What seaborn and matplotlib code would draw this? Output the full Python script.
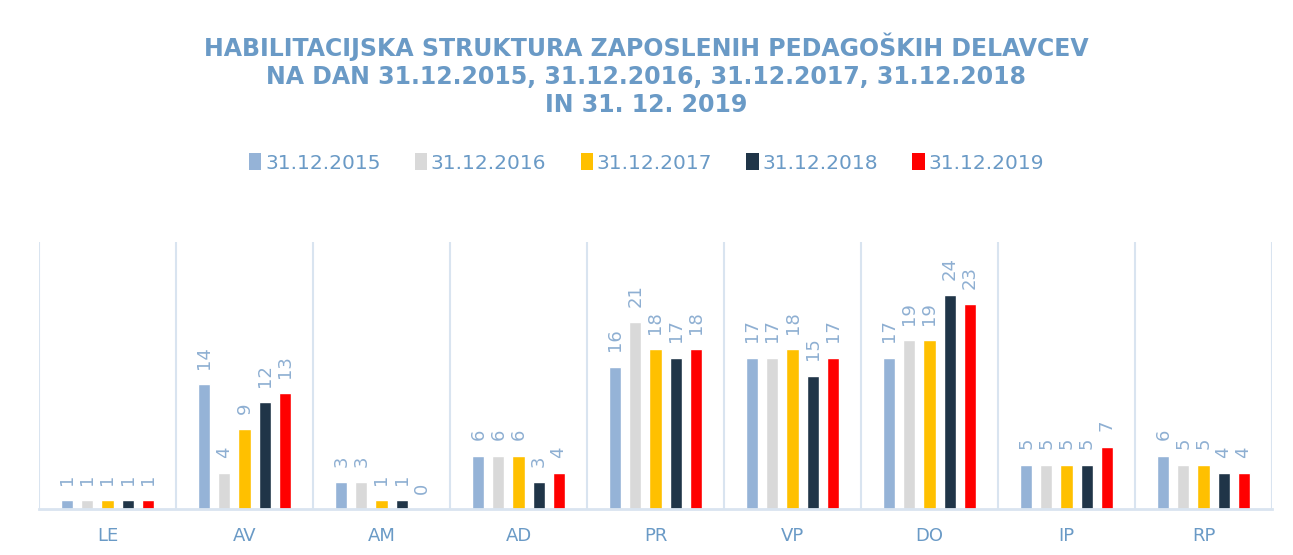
import matplotlib
matplotlib.use("Agg")
import matplotlib.pyplot as plt
import seaborn as sns
import pandas as pd
from matplotlib.patches import Patch

categories = ["LE", "AV", "AM", "AD", "PR", "VP", "DO", "IP", "RP"]
series = ["31.12.2015", "31.12.2016", "31.12.2017", "31.12.2018", "31.12.2019"]
v2015 = [1, 14, 3, 6, 16, 17, 17, 5, 6]
v2016 = [1, 4, 3, 6, 21, 17, 19, 5, 5]
v2017 = [1, 9, 1, 6, 18, 18, 19, 5, 5]
v2018 = [1, 12, 1, 3, 17, 15, 24, 5, 4]
v2019 = [1, 13, 0, 4, 18, 17, 23, 7, 4]
colors = ["#95B3D7", "#D9D9D9", "#FFC000", "#203548", "#FF0000"]
title = ("HABILITACIJSKA STRUKTURA ZAPOSLENIH PEDAGOŠKIH DELAVCEV\n"
         "NA DAN 31.12.2015, 31.12.2016, 31.12.2017, 31.12.2018\n"
         "IN 31. 12. 2019")

values = [v2015, v2016, v2017, v2018, v2019]
rows = []
for s, vals in zip(series, values):
    for c, v in zip(categories, vals):
        rows.append({"cat": c, "series": s, "value": v})
df = pd.DataFrame(rows)

sns.set_theme(style="white")
plt.rcParams["font.family"] = ["DejaVu Sans"]
txt_col = "#6A9AC6"
lab_col = "#8EAFD2"
line_col = "#D9E4F0"

fig = plt.figure(figsize=(12.93, 5.55), dpi=100)
ax = fig.add_axes([39 / 1293, 1 - 509 / 555, (1272 - 39) / 1293, (509 - 242) / 555])

sns.barplot(data=df, x="cat", y="value", hue="series", order=categories,
            hue_order=series, palette=colors, width=0.73, gap=0.4,
            saturation=1, legend=False, ax=ax)

for cont in ax.containers:
    ax.bar_label(cont, padding=11, rotation=90, fontsize=13, color=lab_col)

ax.set_xlim(-0.5, len(categories) - 0.5)
ax.set_ylim(0, 30)
for i in range(len(categories) + 1):
    ax.axvline(i - 0.5, color=line_col, lw=1.5, zorder=0)
for s in ["top", "right", "left"]:
    ax.spines[s].set_visible(False)
ax.spines["bottom"].set_color(line_col)
ax.spines["bottom"].set_linewidth(2)
ax.set_yticks([])
ax.set_xlabel("")
ax.set_ylabel("")
ax.tick_params(axis="x", length=0, pad=13, labelsize=13, labelcolor=txt_col)

fig.text(0.5, 1 - 75 / 555, title, ha="center", va="center", fontsize=17,
         fontweight="bold", color=txt_col, linespacing=1.2)

handles = [Patch(facecolor=c, edgecolor="none") for c in colors]
fig.legend(handles, series, loc="center", bbox_to_anchor=(0.5, 1 - 163 / 555),
           ncol=5, frameon=False, fontsize=14.5, labelcolor=txt_col,
           handlelength=0.6, handleheight=0.9, handletextpad=0.2,
           columnspacing=1.7)

fig.savefig("out.png", dpi=100)
